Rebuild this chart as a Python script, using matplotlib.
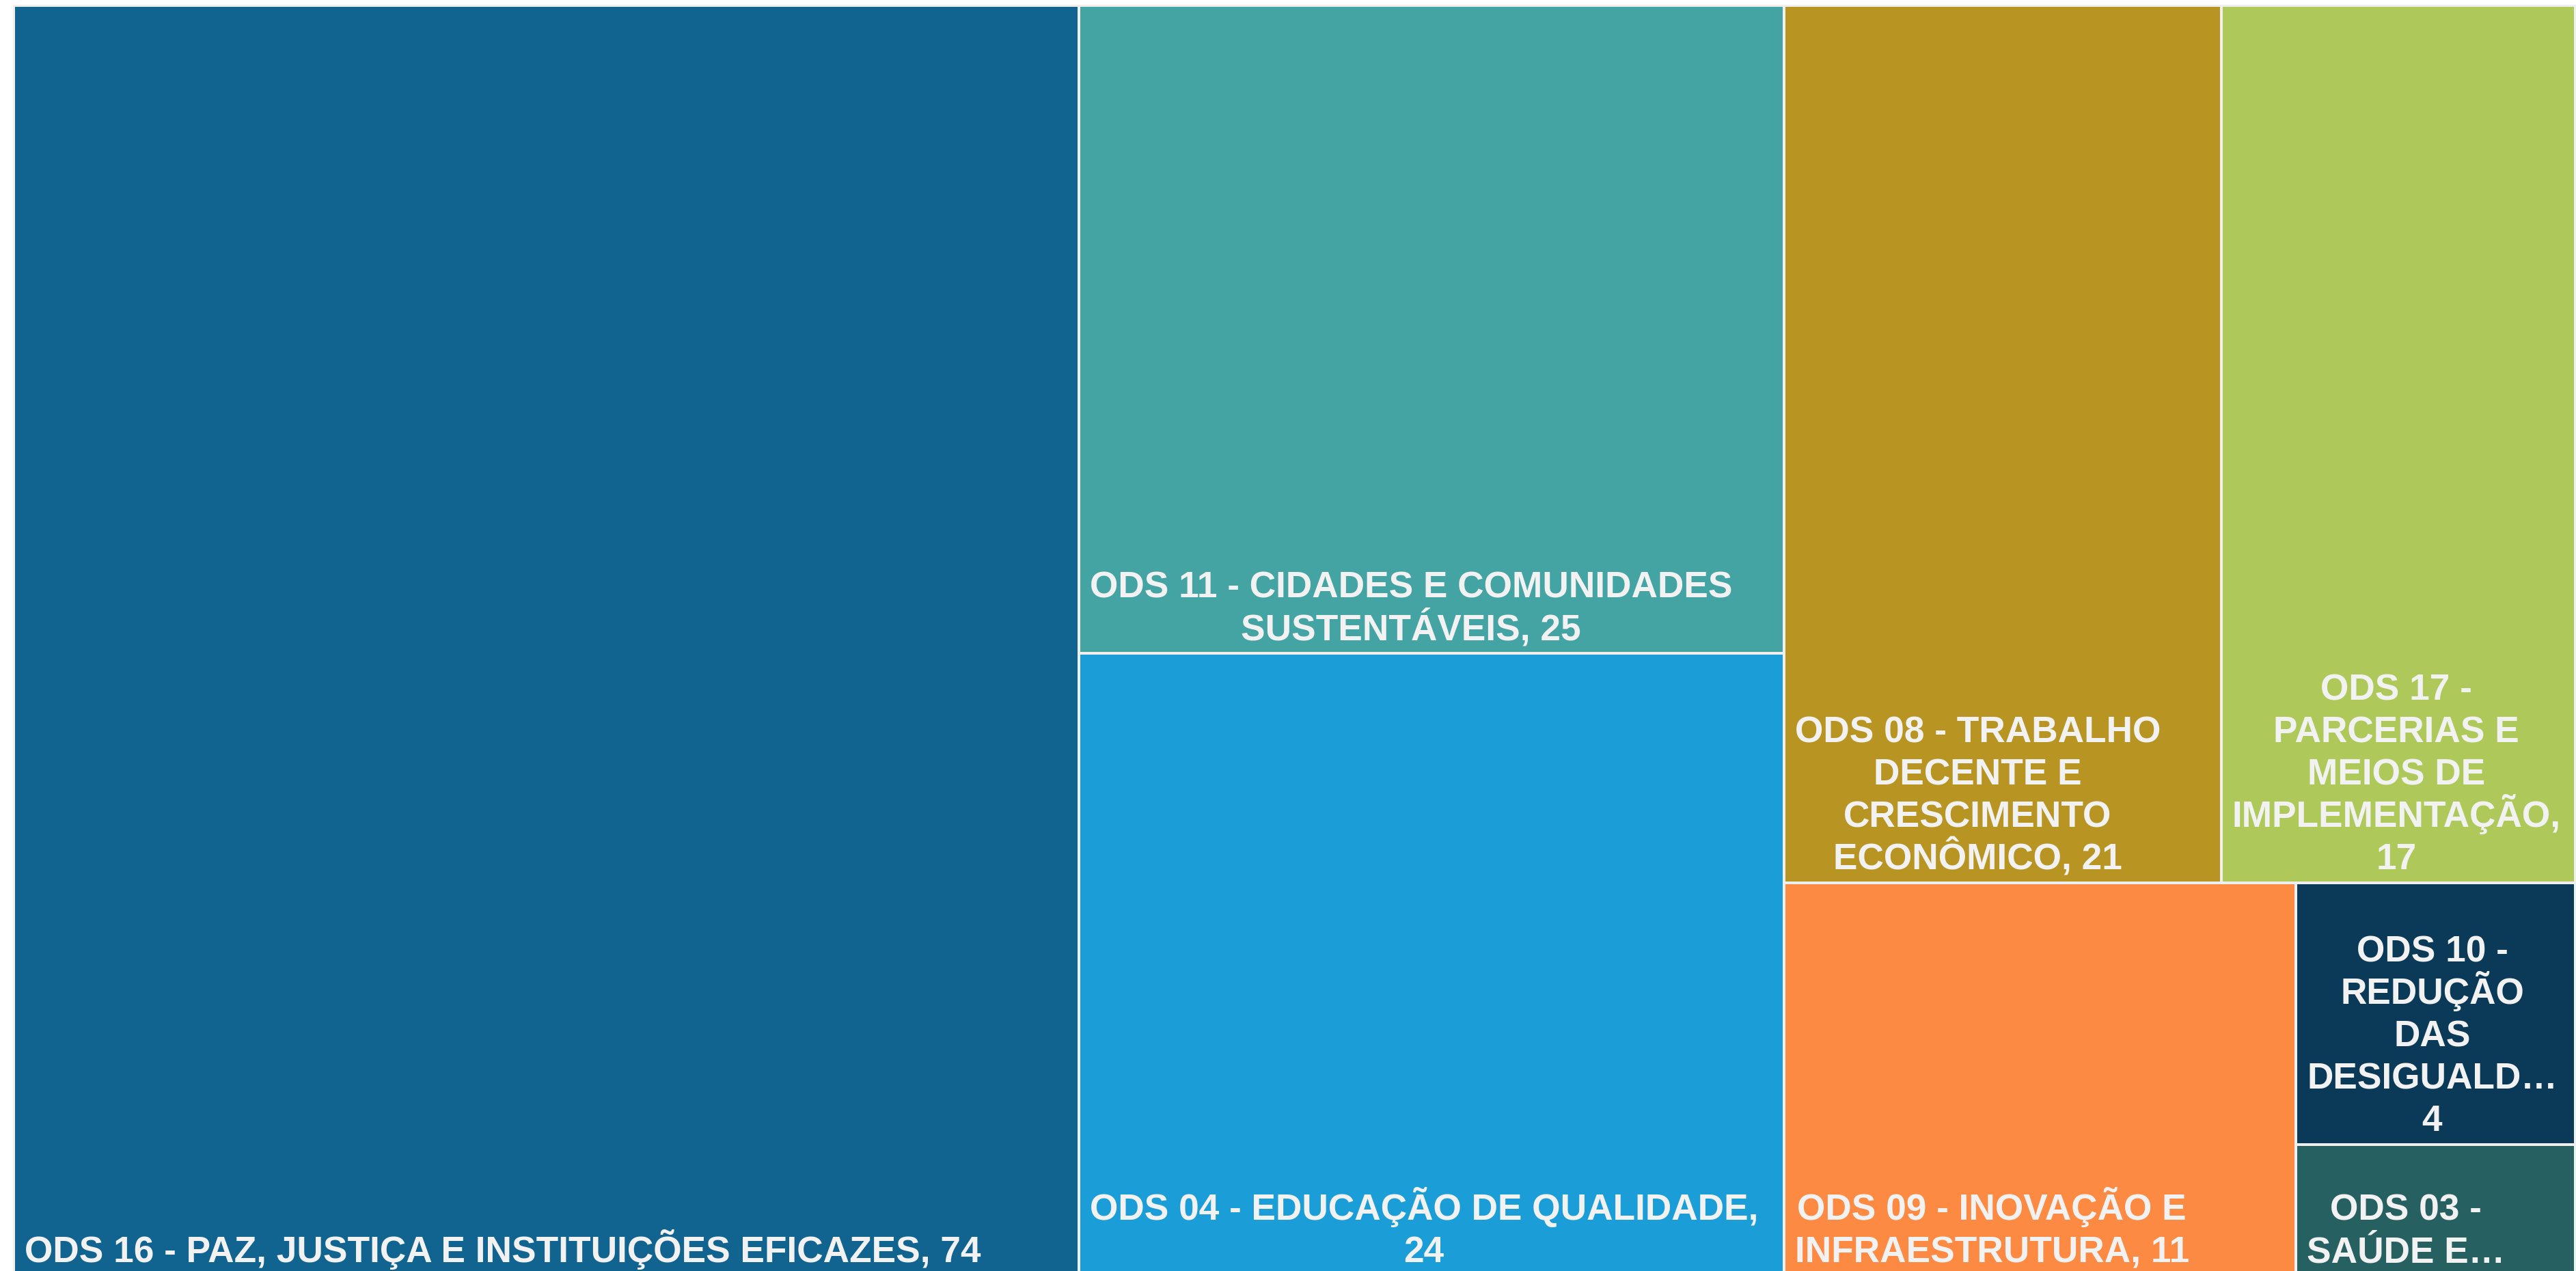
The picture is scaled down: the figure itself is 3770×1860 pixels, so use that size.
import math
import matplotlib
matplotlib.use("Agg")
import matplotlib.pyplot as plt
from matplotlib.patches import Rectangle
from matplotlib.font_manager import FontProperties

# ---------------- data ----------------
categories = [
    "ODS 16 - PAZ, JUSTIÇA E INSTITUIÇÕES EFICAZES",
    "ODS 11 - CIDADES E COMUNIDADES SUSTENTÁVEIS",
    "ODS 04 - EDUCAÇÃO DE QUALIDADE",
    "ODS 08 - TRABALHO DECENTE E CRESCIMENTO ECONÔMICO",
    "ODS 17 - PARCERIAS E MEIOS DE IMPLEMENTAÇÃO",
    "ODS 09 - INOVAÇÃO E INFRAESTRUTURA",
    "ODS 10 - REDUÇÃO DAS DESIGUALDADES",
    "ODS 03 - SAÚDE E BEM-ESTAR",
]
values = [74, 25, 24, 21, 17, 11, 4, 2]
colors = ["#11648F", "#44A3A3", "#1B9ED7", "#B89523",
          "#AEC959", "#FC8A42", "#0A3A57", "#276061"]

# ---------------- figure ----------------
W_PX, H_PX, DPI = 3770, 1860, 100
fig = plt.figure(figsize=(W_PX / DPI, H_PX / DPI), dpi=DPI, facecolor="white")
ax = fig.add_axes([0, 0, 1, 1])
ax.set_xlim(0, W_PX)
ax.set_ylim(H_PX, 0)
ax.axis("off")

# treemap domain (pixel units of the axes)
X0, X1, Y0, Y1 = 20.0, 3769.0, 8.0, 1867.0
GAP = 2.0
BG = "#EFEFEF"
ax.add_patch(Rectangle((X0 - 1, Y0 - 1), X1 - X0 + 2, Y1 - Y0 + 2,
                       facecolor=BG, edgecolor="none"))


def squarify(vals, x0, y0, x1, y1, ratio=(1 + 5 ** 0.5) / 2):
    """d3.treemapSquarify port; y grows downward."""
    out = [None] * len(vals)
    idx = list(range(len(vals)))
    total = float(sum(vals))
    i0 = 0
    n = len(vals)
    while i0 < n:
        dx, dy = x1 - x0, y1 - y0
        i1 = i0
        s = vals[idx[i1]]
        i1 += 1
        mn = mx = s
        alpha = max(dy / dx, dx / dy) / (total * ratio)
        beta = s * s * alpha
        min_ratio = max(mx / beta, beta / mn)
        while i1 < n:
            v = vals[idx[i1]]
            s2 = s + v
            mn2, mx2 = min(mn, v), max(mx, v)
            beta = s2 * s2 * alpha
            new_ratio = max(mx2 / beta, beta / mn2)
            if new_ratio > min_ratio:
                break
            s, mn, mx, min_ratio = s2, mn2, mx2, new_ratio
            i1 += 1
        row = idx[i0:i1]
        if dx < dy:  # dice: row laid horizontally on top
            h = dy * s / total
            cx = x0
            for k in row:
                w = dx * vals[k] / s
                out[k] = (cx, y0, cx + w, y0 + h)
                cx += w
            y0 += h
        else:  # slice: column on the left
            w = dx * s / total
            cy = y0
            for k in row:
                h = dy * vals[k] / s
                out[k] = (x0, cy, x0 + w, cy + h)
                cy += h
            x0 += w
        total -= s
        i0 = i1
    return out


cells = squarify(values, X0, Y0, X1, Y1)

renderer = fig.canvas.get_renderer()
FONT_PX = 53.3
fp = FontProperties(family="Liberation Sans", weight="bold", size=FONT_PX * 72 / DPI)
ELL = "\u2026"


def tw(s):
    w, h, d = renderer.get_text_width_height_descent(s, fp, ismath=False)
    return w


def truncate(word, aw):
    while word and tw(word + ELL) > aw:
        word = word[:-1]
    return word + ELL


def wrap(text, aw, max_lines):
    lines, cur = [], ""
    for w in text.split(" "):
        cand = w if not cur else cur + " " + w
        if tw(cand) <= aw:
            cur = cand
            continue
        if cur:
            lines.append(cur)
            cur = ""
        if tw(w) <= aw:
            cur = w
        else:
            lines.append(truncate(w, aw))
    if cur:
        lines.append(cur)
    if len(lines) > max_lines:
        lines = lines[:max_lines]
        last = lines[-1]
        while last and tw(last + ELL) > aw:
            last = last[:-1]
        lines[-1] = last + ELL
    return lines


PAD_X = 12
TEXT_OFF = 14
LINE_H = 62
BASE_PAD = 18
TEXT_COLOR = "#F2F2F2"

for cat, val, col, (cx0, cy0, cx1, cy1) in zip(categories, values, colors, cells):
    rx0, ry0, rx1, ry1 = cx0 + GAP, cy0 + GAP, cx1 - GAP, cy1 - GAP
    ax.add_patch(Rectangle((rx0, ry0), rx1 - rx0, ry1 - ry0,
                           facecolor=col, edgecolor="none"))
    rw, rh = rx1 - rx0, ry1 - ry0
    aw = rw - 2 * PAD_X
    max_lines = int((rh - 24) // LINE_H)
    if max_lines < 1:
        continue
    lines = wrap(f"{cat}, {val}", aw, max_lines)
    block_w = max(tw(l) for l in lines)
    off = min(TEXT_OFF, max(0.0, (rw - block_w) / 2))
    xc = rx0 + off + block_w / 2
    n = len(lines)
    for i, line in enumerate(lines):
        yb = ry1 - BASE_PAD - (n - 1 - i) * LINE_H
        ax.text(xc, yb, line, ha="center", va="baseline",
                fontproperties=fp, color=TEXT_COLOR)

fig.savefig("out.png", dpi=DPI, facecolor="white")
